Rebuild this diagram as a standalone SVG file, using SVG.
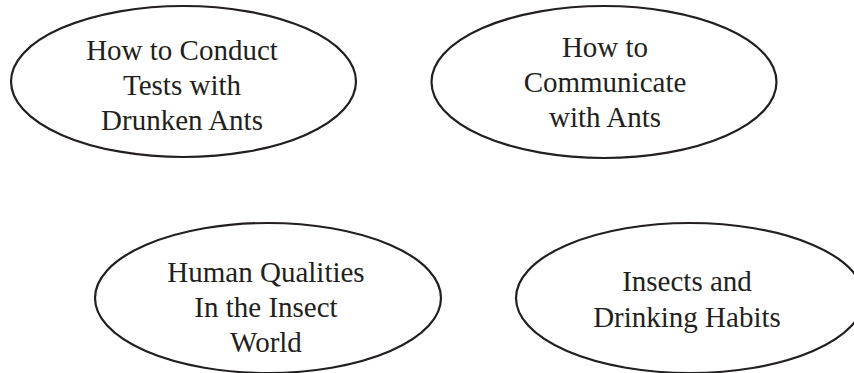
<svg xmlns="http://www.w3.org/2000/svg" width="854" height="373" viewBox="0 0 854 373">
<style>
.n{fill:#fff;stroke:#231f20;stroke-width:2.2}
.t{font-family:"Liberation Serif","Times New Roman",serif;font-size:29px;fill:#231f20;text-anchor:middle}
</style>
<rect width="854" height="373" fill="#fff"/>
<g id="connectors"/>
<g id="n1">
<ellipse class="n" cx="183.5" cy="81.5" rx="172.5" ry="75.5"/>
<text class="t" x="182" y="60">How to Conduct</text>
<text class="t" x="182" y="94.5">Tests with</text>
<text class="t" x="182" y="129.5">Drunken Ants</text>
</g>
<g id="n2">
<ellipse class="n" cx="604" cy="82" rx="172.5" ry="76"/>
<text class="t" x="605" y="57">How to</text>
<text class="t" x="605" y="92">Communicate</text>
<text class="t" x="605" y="127">with Ants</text>
</g>
<g id="n3">
<ellipse class="n" cx="268" cy="298" rx="173" ry="75"/>
<text class="t" x="266" y="282">Human Qualities</text>
<text class="t" x="266" y="317">In the Insect</text>
<text class="t" x="266" y="352">World</text>
</g>
<g id="n4">
<ellipse class="n" cx="690" cy="298" rx="174" ry="75"/>
<text class="t" x="687" y="291">Insects and</text>
<text class="t" x="687" y="327">Drinking Habits</text>
</g>
</svg>
